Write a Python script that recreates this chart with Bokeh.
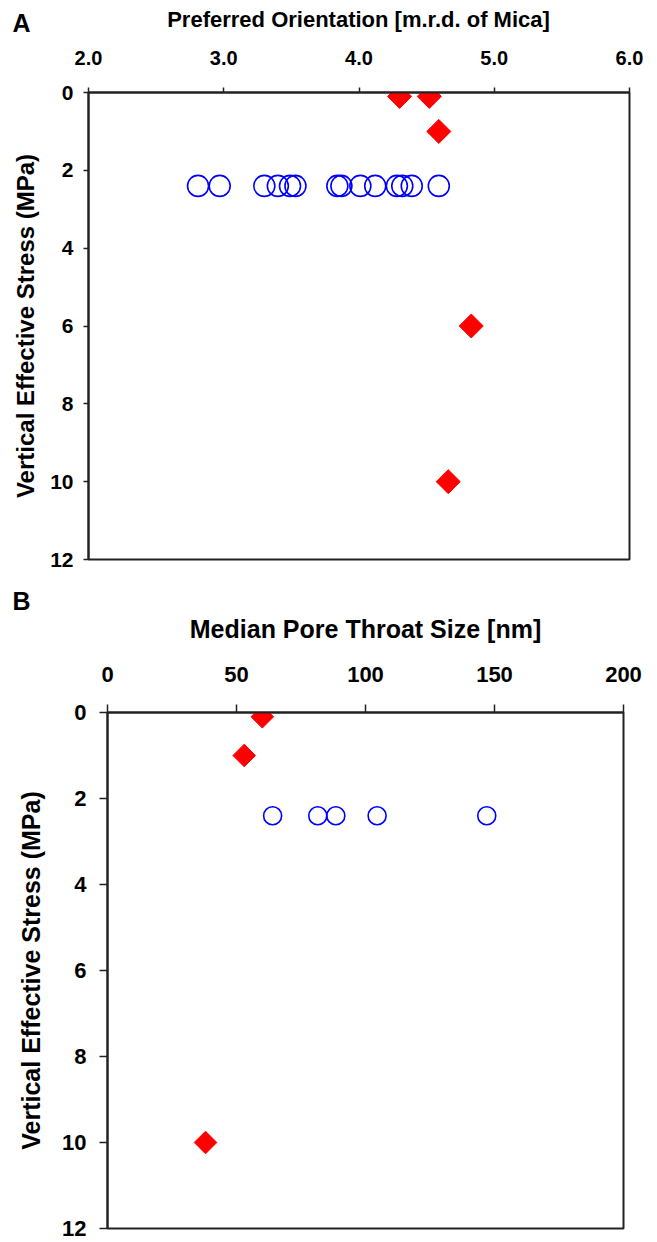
from bokeh.plotting import figure
from bokeh.models import Range1d, FixedTicker, Label, NumeralTickFormatter
from bokeh.embed import file_html
from bokeh.resources import INLINE

# ---------------- data ----------------
# Panel A: preferred orientation (m.r.d. of mica) vs vertical effective stress
a_diamond_x = [4.30, 4.52, 4.59, 4.83, 4.66]
a_diamond_y = [0.1, 0.1, 1.0, 6.0, 10.0]
a_circle_x = [2.81, 2.97, 3.30, 3.40, 3.49, 3.53, 3.84, 3.87, 4.01, 4.12, 4.28, 4.32, 4.39, 4.59]
a_circle_y = [2.4] * len(a_circle_x)
a_x_ticks = [2.0, 3.0, 4.0, 5.0, 6.0]

# Panel B: median pore throat size (nm) vs vertical effective stress
b_diamond_x = [60.0, 53.0, 38.0]
b_diamond_y = [0.1, 1.0, 10.0]
b_circle_x = [64.0, 81.5, 88.5, 104.5, 147.0]
b_circle_y = [2.4] * len(b_circle_x)
b_x_ticks = [0, 50, 100, 150, 200]

y_ticks = [0, 2, 4, 6, 8, 10, 12]

a_title = "Preferred Orientation [m.r.d. of Mica]"
b_title = "Median Pore Throat Size [nm]"
y_title = "Vertical Effective Stress (MPa)"

SANS = "Liberation Sans"
RED = "#FF0000"
BLUE = "#0000FF"
INK = "#222222"
W = 657


def header(h, items):
    """A blank strip whose frame covers the whole strip; texts as Labels."""
    hp = figure(width=W, height=h, x_range=Range1d(0, W), y_range=Range1d(h, 0),
                toolbar_location=None, output_backend="svg",
                x_axis_type=None, y_axis_type=None, min_border=0)
    hp.outline_line_color = None
    hp.xgrid.visible = False
    hp.ygrid.visible = False
    hp.background_fill_color = "white"
    hp.border_fill_color = "white"
    for (tx, ty, txt, size, align) in items:
        hp.add_layout(Label(x=tx, y=ty, text=txt, text_font=SANS,
                            text_font_style="bold", text_font_size=f"{size}px",
                            text_color="black", text_align=align,
                            text_baseline="middle"))
    return hp


def panel(xr, xticks, xfmt, dx, dy, cx, cy, fw, fh, ml, mr, mt, mb,
          xtick_px, ytick_px, ylabel_px, tick_out, x_std, y_std, y_lbl_std,
          diamond_size, circle_size):
    p = figure(frame_width=fw, frame_height=fh,
               x_range=Range1d(*xr), y_range=Range1d(12, 0),
               x_axis_location="above", toolbar_location=None,
               output_backend="svg",
               min_border_left=ml, min_border_right=mr,
               min_border_top=mt, min_border_bottom=mb)
    p.xgrid.visible = False
    p.ygrid.visible = False
    p.background_fill_color = "white"
    p.border_fill_color = "white"
    p.outline_line_color = INK
    p.outline_line_width = 2

    ax = p.xaxis[0]
    ax.ticker = FixedTicker(ticks=xticks)
    if xfmt:
        ax.formatter = NumeralTickFormatter(format=xfmt)
    ax.major_label_text_font = SANS
    ax.major_label_text_font_style = "bold"
    ax.major_label_text_font_size = f"{xtick_px}px"
    ax.major_label_text_color = "black"
    ax.major_label_standoff = x_std

    ay = p.yaxis[0]
    ay.ticker = FixedTicker(ticks=y_ticks)
    ay.axis_label = y_title
    ay.axis_label_text_font = SANS
    ay.axis_label_text_font_style = "bold"
    ay.axis_label_text_font_size = f"{ylabel_px}px"
    ay.axis_label_text_color = "black"
    ay.axis_label_standoff = y_lbl_std
    ay.major_label_text_font = SANS
    ay.major_label_text_font_style = "bold"
    ay.major_label_text_font_size = f"{ytick_px}px"
    ay.major_label_text_color = "black"
    ay.major_label_standoff = y_std

    for a in (ax, ay):
        a.major_tick_out = tick_out
        a.major_tick_in = 0
        a.minor_tick_out = 0
        a.minor_tick_in = 0
        a.axis_line_width = 2
        a.axis_line_color = INK
        a.major_tick_line_color = INK
        a.major_tick_line_width = 1.5

    p.scatter(cx, cy, marker="circle", size=circle_size,
              fill_color=None, line_color=BLUE, line_width=1.6)
    p.scatter(dx, dy, marker="square", size=diamond_size, angle=0.785398,
              fill_color=RED, line_color=RED, line_width=1)
    return p


# header strip for panel A: letter + axis title (same line)
hA = header(38, [(12, 22, "A", 25, "left"), (358, 19, a_title, 22, "center")])

pA = panel((2.0, 6.0), a_x_ticks, "0.0",
           a_diamond_x, a_diamond_y, a_circle_x, a_circle_y,
           fw=541, fh=467, ml=88, mr=28, mt=54, mb=16,
           xtick_px=20, ytick_px=21, ylabel_px=24, tick_out=5,
           x_std=23, y_std=10, y_lbl_std=8,
           diamond_size=17, circle_size=21)

# header strip for panel B: letter + axis title
hB = header(77, [(12, 25, "B", 25, "left"), (365, 53, b_title, 25, "center")])

pB = panel((0, 200), b_x_ticks, None,
           b_diamond_x, b_diamond_y, b_circle_x, b_circle_y,
           fw=516, fh=516, ml=107, mr=34, mt=60, mb=14,
           xtick_px=22, ytick_px=22, ylabel_px=25, tick_out=8,
           x_std=23, y_std=13, y_lbl_std=14,
           diamond_size=16, circle_size=18)

open("out.html", "w").write(file_html([hA, pA, hB, pB], INLINE))
